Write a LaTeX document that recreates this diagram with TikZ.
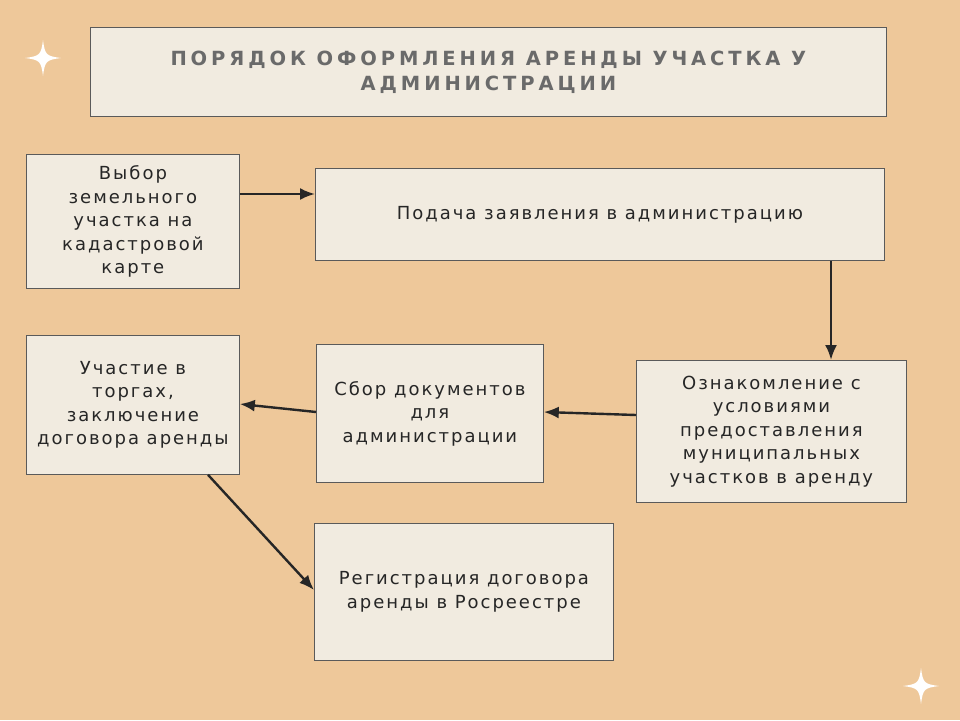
\documentclass[tikz,border=0pt]{standalone}
\usepackage{fontspec}
\setmainfont{DejaVu Sans}[LetterSpace=11]
\newfontfamily\titlefont{DejaVu Sans}[LetterSpace=20]
\usetikzlibrary{arrows.meta}
\definecolor{bg}{HTML}{EEC89A}
\definecolor{boxfill}{HTML}{F1EBE0}
\definecolor{boxline}{HTML}{5A5A5A}
\definecolor{titlec}{HTML}{6A6A6A}
\tikzset{
  box/.style={draw=boxline,line width=0.8pt,fill=boxfill,align=center,text=black!85,font=\fontsize{18}{23.5}\selectfont},
  arr/.style={-{Latex[length=15pt,width=12pt]},line width=2.4pt,black!85},
  spark/.style={fill=white,draw=none}
}
\newcommand{\sparkle}[2]{\fill[spark] (#1,#2-18) .. controls (#1+2,#2-3) and (#1+3,#2-2) .. (#1+18,#2) .. controls (#1+3,#2+2) and (#1+2,#2+3) .. (#1,#2+18) .. controls (#1-2,#2+3) and (#1-3,#2+2) .. (#1-18,#2) .. controls (#1-3,#2-2) and (#1-2,#2-3) .. cycle;}
\begin{document}
\begin{tikzpicture}[x=1pt,y=-1pt]
\fill[bg] (0,0) rectangle (960,720);
\useasboundingbox (0,0) rectangle (960,720);
\node[box,minimum width=796pt,minimum height=89pt,anchor=north west,text=titlec,font=\titlefont\bfseries\fontsize{19.5}{25}\selectfont] (t) at (90,27) {ПОРЯДОК ОФОРМЛЕНИЯ АРЕНДЫ УЧАСТКА У\\АДМИНИСТРАЦИИ};
\node[box,minimum width=213pt,minimum height=134pt,anchor=north west] (b1) at (26,154) {Выбор\\земельного\\участка на\\кадастровой\\карте};
\node[box,minimum width=569pt,minimum height=92pt,anchor=north west] (b2) at (315,168) {Подача заявления в администрацию};
\node[box,minimum width=270pt,minimum height=142pt,anchor=north west] (b3) at (636,360) {Ознакомление с\\условиями\\предоставления\\муниципальных\\участков в аренду};
\node[box,minimum width=227pt,minimum height=138pt,anchor=north west] (b4) at (316,344) {Сбор документов\\для\\администрации};
\node[box,minimum width=213pt,minimum height=139pt,anchor=north west] (b5) at (26,335) {Участие в\\торгах,\\заключение\\договора аренды};
\node[box,minimum width=299pt,minimum height=137pt,anchor=north west] (b6) at (314,523) {Регистрация договора\\аренды в Росреестре};
\coordinate (b2s) at (831,260);
\draw[arr] (b1.east|-0,194) -- (b2.west|-0,194);
\draw[arr] (b2.south-|b2s) -- (b3.north-|b2s);
\draw[arr] (b3.west|-0,415) -- (b4.east|-0,412);
\draw[arr] (b4.west|-0,412) -- (b5.east|-0,404);
\draw[arr] (b5.south-|208,0) -- (b6.west|-0,590);
\sparkle{43}{58}
\sparkle{921}{686}
\end{tikzpicture}
\end{document}
